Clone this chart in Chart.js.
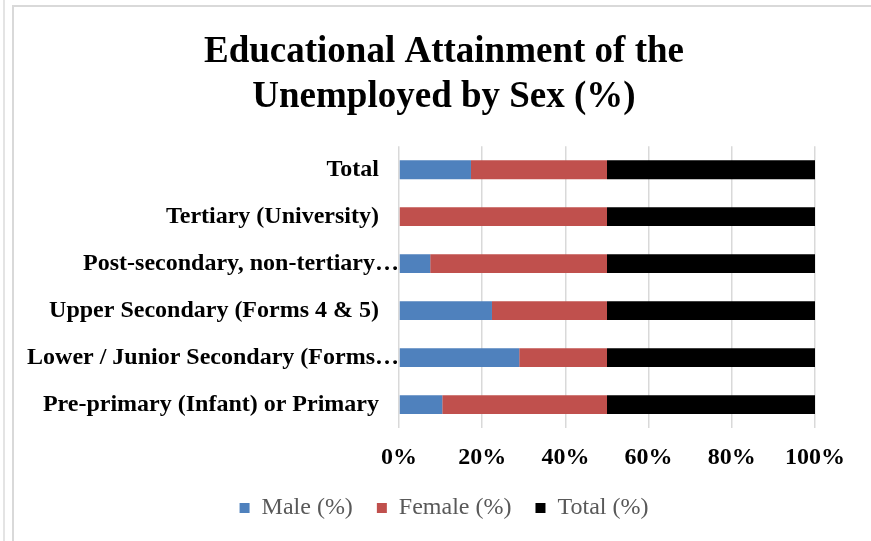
<!DOCTYPE html>
<html>
<head>
<meta charset="utf-8">
<script src="https://cdn.jsdelivr.net/npm/chart.js@4.4.1/dist/chart.umd.min.js"></script>
<style>
    body { margin: 0; background: #fff; overflow: hidden; }
    #wrap { position: relative; width: 871px; height: 541px; }
    .line-outer { position: absolute; left: 3px; top: 0; width: 2px; height: 541px; background: #e4e4e4; }
    .frame { position: absolute; left: 12px; top: 5px; width: 900px; height: 600px;
             border-left: 2px solid #d9d9d9; border-top: 2px solid #d9d9d9; }
    canvas { position: absolute; left: 0; top: 0; }
</style>
</head>
<body>
<div id="wrap">
    <div class="line-outer"></div>
    <div class="frame"></div>
    <canvas id="chart-area" width="871" height="541"></canvas>
</div>
<script>
// categories, top to bottom as in the picture
var niveis = [
    'Total',
    'Tertiary (University)',
    'Post-secondary, non-tertiary\u2026',
    'Upper Secondary (Forms 4 & 5)',
    'Lower / Junior Secondary (Forms\u2026',
    'Pre-primary (Infant) or Primary'
];
var maleVals   = [34.6, 0, 15.0, 44.7, 57.8, 20.8];
var femaleVals = [65.4, 100, 85.0, 55.3, 42.2, 79.2];
var totalVals  = [100, 100, 100, 100, 100, 100];
var xTicks = [0, 20, 40, 60, 80, 100];

// 100% stacked: each row scaled to its own sum
var somas = niveis.map((e, i) => maleVals[i] + femaleVals[i] + totalVals[i]);
function pct(arr) {
    return arr.map((v, i) => v / somas[i] * 100);
}

var serif = "'Liberation Serif', 'Times New Roman', serif";
var ctx = document.getElementById('chart-area').getContext('2d');

// title and legend are centred on the frame, not on the plot
var centrar = {
    id: 'centrar',
    afterLayout: function(chart) {
        chart.titleBlock.left = 73;
        chart.legend.left = 73;
    }
};

var config = {
    type: 'bar',
    data: {
        labels: niveis,
        datasets: [
            { label: 'Male (%)', data: pct(maleVals), backgroundColor: '#4F81BD' },
            { label: 'Female (%)', data: pct(femaleVals), backgroundColor: '#C0504D' },
            { label: 'Total (%)', data: pct(totalVals), backgroundColor: '#000000' }
        ]
    },
    plugins: [centrar],
    options: {
        indexAxis: 'y',
        responsive: false,
        animation: false,
        layout: { padding: { left: 20, right: 56, top: 0, bottom: 11 } },
        datasets: { bar: { barPercentage: 0.4, categoryPercentage: 1 } },
        scales: {
            x: {
                stacked: true,
                min: 0, max: 100,
                afterBuildTicks: function(scale) {
                    scale.ticks = xTicks.map(v => ({ value: v }));
                },
                afterFit: function(scale) { scale.height = 44; },
                grid: { color: '#d9d9d9', lineWidth: 1.5, drawTicks: false },
                border: { display: false },
                ticks: {
                    padding: 15,
                    color: '#000',
                    font: { family: serif, size: 24, weight: 'bold' },
                    callback: v => v + '%'
                }
            },
            y: {
                stacked: true,
                afterFit: function(scale) { scale.width = 379; },
                grid: { display: false, drawTicks: false },
                border: { display: false },
                ticks: {
                    padding: 0,
                    color: '#000',
                    font: { family: serif, size: 24, weight: 'bold' },
                    callback: function(v, i) {
                        var t = niveis[i];
                        // labels cut with an ellipsis run up to the bars
                        if (t.charAt(t.length - 1) === '\u2026') return t;
                        return t + '\u00A0\u00A0\u00A0\u200A';
                    }
                }
            }
        },
        plugins: {
            title: {
                display: true,
                text: ['Educational Attainment of the', 'Unemployed by Sex (%)'],
                color: '#000',
                font: { family: serif, size: 37, weight: 'bold', lineHeight: 1.22 },
                padding: { top: 30, bottom: 26 }
            },
            legend: {
                position: 'bottom',
                labels: {
                    boxWidth: 10,
                    boxHeight: 10,
                    padding: 24,
                    color: '#595959',
                    font: { family: serif, size: 24 }
                }
            },
            tooltip: { enabled: false }
        }
    }
};

window.myBar = new Chart(ctx, config);
</script>
</body>
</html>
